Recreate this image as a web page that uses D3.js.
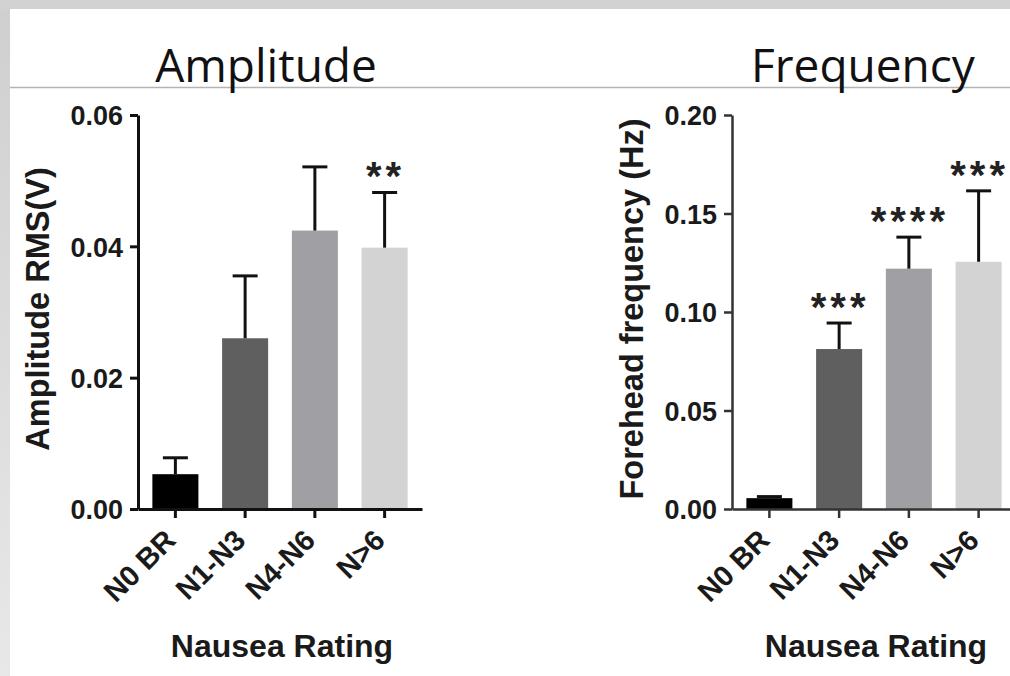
<!DOCTYPE html>
<html>
<head>
<meta charset="UTF-8">
<title>Amplitude / Frequency by Nausea Rating</title>
<script src="https://cdnjs.cloudflare.com/ajax/libs/d3/7.8.5/d3.min.js"></script>
<style>
  body { margin: 0; background: #fff; }
  svg { display: block; }
  .tick text { font-family: "Liberation Sans", Arial, sans-serif; font-weight: bold; }
</style>
</head>
<body>
<div id="chart"></div>
<script>
// data
var categories = ["N0 BR", "N1-N3", "N4-N6", "N>6"];
var barColors = ["#000000", "#5f5f5f", "#a0a0a4", "#d3d3d3"];

var ampMean = [0.0053, 0.0260, 0.0424, 0.0398];
var ampSem = [0.0025, 0.0095, 0.0097, 0.0084];
var ampStars = ["", "", "", "**"];
var ampTicks = [0, 0.02, 0.04, 0.06];

var freqMean = [0.0055, 0.0812, 0.1220, 0.1255];
var freqSem = [0.0008, 0.0132, 0.0160, 0.0360];
var freqStars = ["", "***", "****", "***"];
var freqTicks = [0, 0.05, 0.10, 0.15, 0.20];

var W = 1010, H = 676;
var starSpacing = 4;

var svg = d3.select("#chart").append("svg")
    .attr("width", W)
    .attr("height", H);

// slide frame: grey band on top, grey strip on the left
var grad = svg.append("defs").append("linearGradient")
    .attr("id", "strip").attr("x1", 0).attr("y1", 0).attr("x2", 0).attr("y2", 1);
grad.append("stop").attr("offset", "0%").attr("stop-color", "#cfcfcf");
grad.append("stop").attr("offset", "100%").attr("stop-color", "#e8e8e8");

svg.append("rect").attr("x", 0).attr("y", 0).attr("width", W).attr("height", H).attr("fill", "#fff");
svg.append("rect").attr("x", 0).attr("y", 0).attr("width", 10).attr("height", H).attr("fill", "url(#strip)");
svg.append("rect").attr("x", 0).attr("y", 0).attr("width", W).attr("height", 9).attr("fill", "#d2d2d2");
svg.append("line")
    .attr("x1", 10).attr("x2", W).attr("y1", 87.5).attr("y2", 87.5)
    .attr("stroke", "#b4b4b4").attr("stroke-width", 1.5);

function drawPanel(opts) {
    var g = svg.append("g");

    var x = d3.scaleBand()
        .domain(categories)
        .range([opts.left, opts.left + 284])
        .paddingInner(0.34)
        .paddingOuter(0.206);

    var y = d3.scaleLinear()
        .domain([0, opts.ticks[opts.ticks.length - 1]])
        .range([509, 115]);

    var cx = function(i) { return x(categories[i]) + x.bandwidth() / 2; };

    // bars
    g.selectAll("rect.bar")
        .data(opts.mean)
        .enter()
        .append("rect")
        .attr("class", "bar")
        .attr("x", function(d, i) { return x(categories[i]); })
        .attr("y", function(d) { return y(d); })
        .attr("width", x.bandwidth())
        .attr("height", function(d) { return y(0) - y(d); })
        .attr("fill", function(d, i) { return barColors[i]; });

    // error bars (upper only)
    var eb = g.selectAll("g.err")
        .data(opts.mean)
        .enter()
        .append("g")
        .attr("class", "err");
    eb.append("line")
        .attr("x1", function(d, i) { return cx(i); })
        .attr("x2", function(d, i) { return cx(i); })
        .attr("y1", function(d) { return y(d); })
        .attr("y2", function(d, i) { return y(d + opts.sem[i]); })
        .attr("stroke", "#111").attr("stroke-width", 3);
    eb.append("line")
        .attr("x1", function(d, i) { return cx(i) - 12.5; })
        .attr("x2", function(d, i) { return cx(i) + 12.5; })
        .attr("y1", function(d, i) { return y(d + opts.sem[i]); })
        .attr("y2", function(d, i) { return y(d + opts.sem[i]); })
        .attr("stroke", "#111").attr("stroke-width", 3);

    // significance stars
    g.selectAll("text.star")
        .data(opts.stars)
        .enter()
        .append("text")
        .attr("class", "star")
        .attr("x", function(d, i) { return cx(i) + starSpacing / 2 - 1; })
        .attr("y", function(d, i) { return y(opts.mean[i] + opts.sem[i]) - 2; })
        .attr("text-anchor", "middle")
        .attr("font-family", "Liberation Sans, Arial, sans-serif")
        .attr("font-weight", "bold")
        .attr("font-size", 40)
        .attr("letter-spacing", starSpacing)
        .attr("fill", "#222")
        .text(function(d) { return d; });

    // y axis
    var yAxis = g.append("g")
        .attr("transform", "translate(" + opts.left + ",0)")
        .call(d3.axisLeft(y)
            .tickValues(opts.ticks)
            .tickFormat(d3.format(".2f"))
            .tickSize(8)
            .tickSizeOuter(0)
            .tickPadding(7));
    yAxis.selectAll("path, line").attr("stroke", opts.axisColor).attr("stroke-width", opts.axisWidth);
    yAxis.selectAll("text").attr("font-size", 27).attr("fill", "#1a1a1a").attr("dy", "0.36em");

    // x axis
    var xAxis = g.append("g")
        .attr("transform", "translate(0,509)")
        .call(d3.axisBottom(x).tickSize(9).tickSizeOuter(0).tickFormat(""));
    xAxis.selectAll("path, line").attr("stroke", opts.axisColor).attr("stroke-width", opts.axisWidth);

    // rotated category labels
    g.selectAll("text.cat")
        .data(categories)
        .enter()
        .append("text")
        .attr("class", "cat")
        .attr("transform", function(d, i) {
            return "translate(" + (cx(i) + 2) + ",542) rotate(-45)";
        })
        .attr("text-anchor", "end")
        .attr("font-family", "Liberation Sans, Arial, sans-serif")
        .attr("font-weight", "bold")
        .attr("font-size", 29)
        .attr("fill", "#1a1a1a")
        .text(function(d) { return d; });

    // axis titles
    g.append("text")
        .attr("transform", "translate(" + opts.yLabelX + ",309) rotate(-90)")
        .attr("text-anchor", "middle")
        .attr("font-family", "Liberation Sans, Arial, sans-serif")
        .attr("font-weight", "bold")
        .attr("font-size", opts.yLabelSize)
        .attr("fill", "#1a1a1a")
        .text(opts.yLabel);

    g.append("text")
        .attr("x", opts.left + 144)
        .attr("y", 657)
        .attr("text-anchor", "middle")
        .attr("font-family", "Liberation Sans, Arial, sans-serif")
        .attr("font-weight", "bold")
        .attr("font-size", 32)
        .attr("fill", "#1a1a1a")
        .text("Nausea Rating");

    // panel title
    g.append("text")
        .attr("x", opts.titleX)
        .attr("y", 82)
        .attr("text-anchor", "middle")
        .attr("font-family", "Open Sans, sans-serif")
        .attr("font-size", 46)
        .attr("fill", "#111")
        .text(opts.title);
}

drawPanel({
    left: 138, mean: ampMean, sem: ampSem, stars: ampStars, ticks: ampTicks,
    yLabel: "Amplitude RMS(V)", yLabelX: 49, yLabelSize: 32.5,
    title: "Amplitude", titleX: 266,
    axisColor: "#111", axisWidth: 3
});

drawPanel({
    left: 732, mean: freqMean, sem: freqSem, stars: freqStars, ticks: freqTicks,
    yLabel: "Forehead frequency (Hz)", yLabelX: 643, yLabelSize: 32.5,
    title: "Frequency", titleX: 863,
    axisColor: "#333", axisWidth: 2.5
});
</script>
</body>
</html>
